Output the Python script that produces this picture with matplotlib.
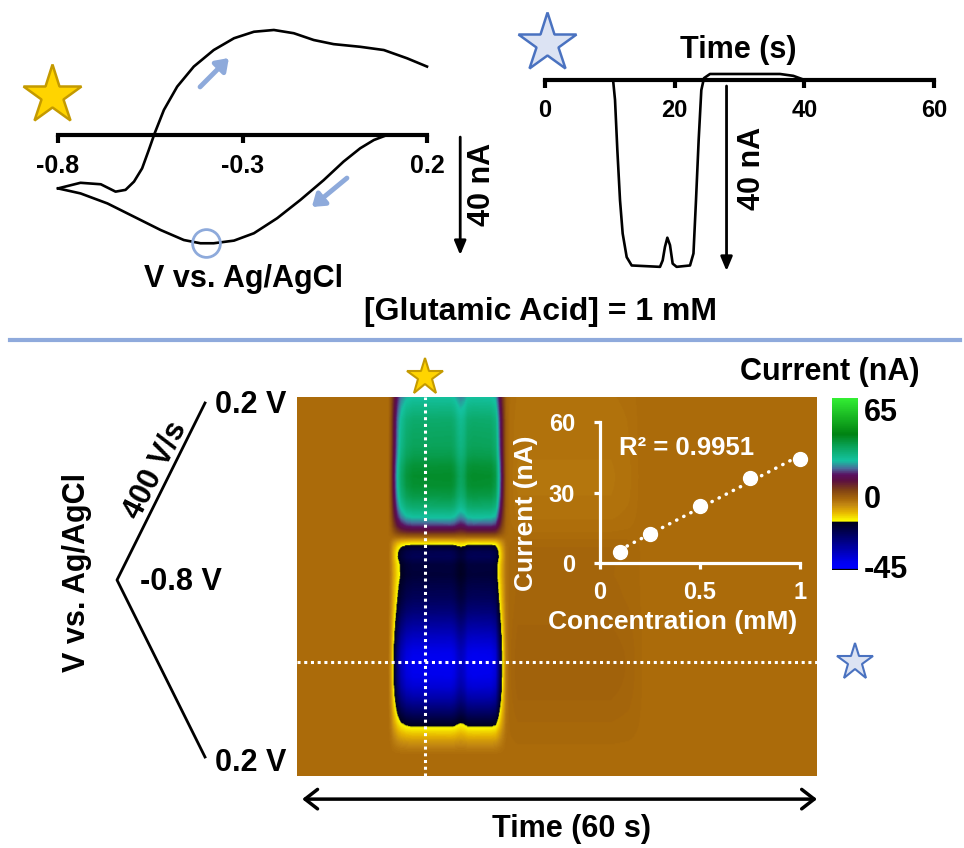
import numpy as np
import matplotlib.pyplot as plt
from matplotlib.colors import LinearSegmentedColormap, Normalize
from matplotlib.lines import Line2D

plt.rcParams["font.family"] = ["Liberation Sans", "DejaVu Sans"]
plt.rcParams["font.weight"] = "bold"

# ── data ────────────────────────────────────────────────────────────
# background-subtracted CV at t = 14.8 s (V vs Ag/AgCl, nA)
cv_fwd_v = [-0.80, -0.739, -0.684, -0.644, -0.617, -0.594, -0.572, -0.554, -0.538,
            -0.513, -0.477, -0.432, -0.378, -0.323, -0.269, -0.215, -0.161, -0.107,
            -0.053, 0.019, 0.083, 0.146, 0.20]
cv_fwd_i = [-18.1, -16.2, -16.7, -19.2, -18.6, -15.8, -11.3, -5.1, 0.6,
            8.5, 16.4, 23.2, 28.8, 32.8, 35.0, 35.6, 34.5, 32.2,
            30.8, 29.9, 28.8, 26.0, 23.2]
cv_rev_v = [0.20, 0.092, 0.056, 0.019, -0.026, -0.080, -0.143, -0.206, -0.269,
            -0.323, -0.378, -0.414, -0.459, -0.522, -0.594, -0.666, -0.739, -0.80]
cv_rev_i = [0.0, 0.0, -1.7, -4.5, -9.0, -15.3, -22.0, -28.2, -33.3,
            -35.8, -36.7, -36.7, -35.6, -32.2, -27.7, -23.2, -19.8, -18.1]

# current vs time at -0.4 V (s, nA)
it_t = [0, 10.5, 10.8, 11.16, 11.57, 11.98, 12.6, 13.37, 17.74, 18.15, 18.5, 18.87,
        19.28, 19.69, 20.3, 22.37, 22.9, 23.29, 23.7, 24.11, 24.52, 25.45, 36.25,
        38.3, 39.85, 60]
it_i = [0, 0, -4.3, -15.2, -26.0, -33.2, -38.3, -40.1, -40.4, -39.0, -36.1, -34.1,
        -35.7, -39.7, -40.4, -40.1, -37.5, -26.0, -13.0, -2.2, 0.4, 1.3, 1.3,
        0.9, 0.1, 0]

# triangle waveform: fraction of one scan vs applied potential
wave_s = [0.0, 0.5, 1.0]
wave_v = [0.2, -0.8, 0.2]

# calibration
conc = [0.1, 0.25, 0.5, 0.75, 1.0]
peak = [4.6, 12.5, 24.3, 36.0, 44.3]

e_cut = -0.4   # potential of the time trace
t_cut = 14.8   # time of the CV

cv_ticks = [-0.8, -0.3, 0.2]
cv_labels = ["-0.8", "-0.3", "0.2"]
it_ticks = [0, 20, 40, 60]
cal_xticks = [0, 0.5, 1]
cal_xlabels = ["0", "0.5", "1"]
cal_yticks = [0, 30, 60]
cbar_ticks = [-45, 0, 65]
cbar_labels = ["-45", "0", "65"]

# colour scale (nA -> colour)
cmap_stops = [(-45, "#000000"), (-44, "#0000ff"), (-40, "#0000f0"), (-14.2, "#00001a"),
              (-13.8, "#ffff00"), (-8, "#e6b400"), (-3, "#c08412"), (0, "#aa6a0a"),
              (6, "#804214"), (12, "#5c1040"), (16, "#5a1060"), (20, "#4a6a9a"),
              (25, "#14c2a0"), (34, "#0aa35a"), (42, "#008212"), (65, "#33ee33")]

# ── layout helpers (pixel coordinates, origin top-left) ─────────────
W, H = 964, 848
fig = plt.figure(figsize=(W / 100, H / 100), dpi=100)


def box(x0, y0, x1, y1):
    return [x0 / W, 1 - y1 / H, (x1 - x0) / W, (y1 - y0) / H]


def label(x, y, s, size=22, **kw):
    fig.text(x / W, 1 - y / H, s, ha="center", va="center", fontsize=size,
             fontweight="bold", **kw)


def star(x, y, size, face, edge):
    fig.add_artist(Line2D([x / W], [1 - y / H], marker="*", ms=size, mfc=face,
                          mec=edge, mew=1.8, transform=fig.transFigure))


blue = "#8eaadb"
rev_v = np.array(cv_rev_v)[::-1]
rev_i = np.array(cv_rev_i)[::-1]
i_cut = np.interp(e_cut, rev_v, rev_i)

# ── CV panel ────────────────────────────────────────────────────────
ax = fig.add_axes(box(58, 20, 427, 262))
ax.patch.set_visible(False)
cv_px = 118 / 40
ax.set_xlim(-0.8, 0.2)
ax.set_ylim(-(262 - 135) / cv_px, (135 - 20) / cv_px)
ax.plot(cv_fwd_v, cv_fwd_i, color="k", lw=1.9, clip_on=False, solid_joinstyle="round")
ax.plot(cv_rev_v, cv_rev_i, color="k", lw=1.9, clip_on=False, solid_joinstyle="round")
ax.plot(e_cut, i_cut, "o", ms=20, mfc="none", mec=blue, mew=2, clip_on=False)
for s in ["left", "top", "right"]:
    ax.spines[s].set_visible(False)
ax.spines["bottom"].set_position(("data", 0))
ax.spines["bottom"].set_linewidth(3)
ax.set_yticks([])
ax.set_xticks(cv_ticks, labels=cv_labels)
ax.tick_params(axis="x", direction="out", length=6, width=3, labelsize=18, pad=8)
ax.annotate("", xy=(0.29, -40.7), xytext=(0.29, -0.7), annotation_clip=False,
            arrowprops=dict(arrowstyle="-|>,head_length=0.6,head_width=0.25", lw=2,
                            color="k", mutation_scale=14, shrinkA=0, shrinkB=0))
for tail, tip in [((-0.415, 16.3), (-0.337, 26.1)), ((-0.017, -14.6), (-0.112, -24.4))]:
    ax.annotate("", xy=tip, xytext=tail,
                arrowprops=dict(arrowstyle="-|>,head_length=0.5,head_width=0.35", lw=3.5,
                                color=blue, mutation_scale=14, shrinkA=0, shrinkB=0))
label(482, 184, "40 nA", rotation=90)
label(243, 279, "V vs. Ag/AgCl")
star(52, 95, 44, "#ffd400", "#c49a00")

# ── current vs time panel ───────────────────────────────────────────
ax2 = fig.add_axes(box(545, 25, 934, 290))
ax2.patch.set_visible(False)
it_px = 185 / 40
ax2.set_xlim(0, 60)
ax2.set_ylim(-(290 - 80) / it_px, (80 - 25) / it_px)
ax2.plot(it_t, it_i, color="k", lw=1.9, clip_on=False, solid_joinstyle="round")
for s in ["left", "top", "right"]:
    ax2.spines[s].set_visible(False)
ax2.spines["bottom"].set_position(("data", 0))
ax2.spines["bottom"].set_linewidth(3)
ax2.set_yticks([])
ax2.set_xticks(it_ticks)
ax2.tick_params(axis="x", direction="out", length=6, width=3, labelsize=17, pad=8)
ax2.annotate("", xy=(28.0, -41.3), xytext=(28.0, -1.3), annotation_clip=False,
             arrowprops=dict(arrowstyle="-|>,head_length=0.6,head_width=0.25", lw=2,
                             color="k", mutation_scale=14, shrinkA=0, shrinkB=0))
label(752, 168, "40 nA", rotation=90)
label(738, 50, "Time (s)")
star(547, 43, 44, "#dce3f3", "#4a72c0")

label(541, 312, "[Glutamic Acid] = 1 mM", size=23)
fig.add_artist(Line2D([10 / W, 960 / W], [1 - 340 / H] * 2, color="#8faadc", lw=3,
                      transform=fig.transFigure))

# ── colour plot ─────────────────────────────────────────────────────
vmin, vmax = -45, 65
cmap = LinearSegmentedColormap.from_list(
    "fscv", [((v - vmin) / (vmax - vmin), c) for v, c in cmap_stops])
norm = Normalize(vmin, vmax)

t_grid = np.linspace(0, 60, 721)
s_grid = np.linspace(0, 1, 381)
v_grid = np.interp(s_grid, wave_s, wave_v)
profile = np.where(s_grid <= 0.5,
                   np.interp(v_grid, cv_fwd_v, cv_fwd_i),
                   np.interp(v_grid, rev_v, rev_i))
gain = np.interp(t_grid, it_t, it_i) / i_cut
Z = np.outer(profile, gain)

axh = fig.add_axes(box(297, 397, 817, 776))
im = axh.imshow(Z, cmap=cmap, norm=norm, extent=[0, 60, 1, 0], aspect="auto",
                interpolation="bilinear")
axh.set_xlim(0, 60)
axh.set_ylim(1, 0)
axh.set_axis_off()
s_cut = np.interp(e_cut, wave_v[1:], wave_s[1:])
dots = dict(color="white", lw=2.2, ls=(0, (1, 1.2)))
axh.axvline(t_cut, **dots)
axh.axhline(s_cut, xmin=0, xmax=1.01, clip_on=False, **dots)
axh.plot(t_cut, -0.052, marker="*", ms=28, mfc="#ffd400", mec="#c49a00", mew=1.5,
         clip_on=False)
axh.plot(64.4, s_cut, marker="*", ms=28, mfc="#dce3f3", mec="#4a72c0", mew=1.5,
         clip_on=False)
axh.annotate("", xy=(1.0, -0.061), xytext=(0.01, -0.061), xycoords="axes fraction",
             annotation_clip=False,
             arrowprops=dict(arrowstyle="<->,head_length=0.45,head_width=0.35", lw=2.5,
                             color="k", mutation_scale=20, shrinkA=0, shrinkB=0))
label(572, 829, "Time (60 s)")

# colour bar
cax = fig.add_axes(box(832, 398, 858, 570))
cb = fig.colorbar(im, cax=cax)
cb.outline.set_visible(False)
cb.set_ticks(cbar_ticks, labels=cbar_labels)
cax.tick_params(length=0, labelsize=22, pad=4)
for lbl, va in zip(cax.get_yticklabels(), ["center", "center", "top"]):
    lbl.set_va(va)
    lbl.set_fontweight("bold")
label(830, 372, "Current (nA)")

# waveform sketch
axw = fig.add_axes(box(117, 403, 205, 757))
axw.plot(wave_v, wave_s, color="k", lw=2, clip_on=False)
axw.set_xlim(-0.8, 0.2)
axw.set_ylim(1, 0)
axw.set_axis_off()
label(251, 405, "0.2 V")
label(251, 763, "0.2 V")
label(181, 582, "-0.8 V")
label(155, 470, "400 V/s", rotation=63)
label(77, 573, "V vs. Ag/AgCl", rotation=90)

# calibration inset
axi = fig.add_axes(box(600, 422, 800, 563))
axi.patch.set_visible(False)
axi.set_xlim(0, 1)
axi.set_ylim(0, 60)
fit = np.polyfit(conc, peak, 1)
xs = np.array([conc[0], conc[-1]])
axi.plot(xs, np.polyval(fit, xs), color="white", lw=2.5, ls=(0, (0.1, 2.2)),
         dash_capstyle="round")
axi.plot(conc, peak, "o", ms=10, color="white", clip_on=False, zorder=3)
for s in ["top", "right"]:
    axi.spines[s].set_visible(False)
for s in ["left", "bottom"]:
    axi.spines[s].set_color("white")
    axi.spines[s].set_linewidth(2.3)
axi.set_xticks(cal_xticks, labels=cal_xlabels)
axi.set_yticks(cal_yticks)
axi.tick_params(direction="out", length=4, width=2.3, colors="white", labelsize=17)
axi.tick_params(axis="x", pad=9)
axi.tick_params(axis="y", pad=14)
label(673, 622, "Concentration (mM)", size=19, color="white")
label(526, 513, "Current (nA)", size=19, color="white", rotation=90)
label(687, 448, "R² = 0.9951", size=18.5, color="white")

fig.savefig("out.png", dpi=100)
